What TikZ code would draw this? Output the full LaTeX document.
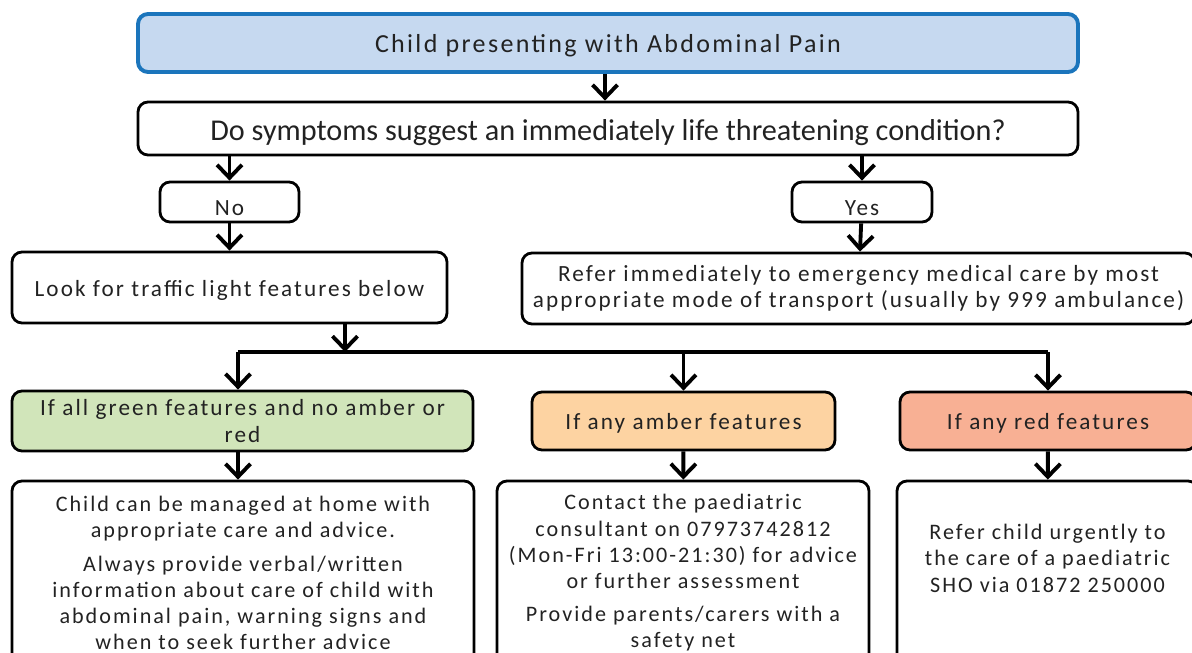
\documentclass[tikz,border=0pt]{standalone}
\usepackage{fontspec}
\setmainfont{Carlito}[LetterSpace=9]
\newfontfamily\askfont{Carlito}
\usetikzlibrary{arrows.meta}
\definecolor{startfill}{HTML}{C6D9F0}
\definecolor{startline}{HTML}{1B75BC}
\definecolor{greenfill}{HTML}{D1E5BA}
\definecolor{amberfill}{HTML}{FDD3A2}
\definecolor{redfill}{HTML}{F8B094}
\definecolor{inktext}{HTML}{222222}

\begin{document}
\begin{tikzpicture}[
    every node/.append style={draw, line width=1.6pt, rounded corners=0.2cm,
      text=inktext, font=\fontsize{13.2}{15}\selectfont, align=center},
    detail/.style={font=\fontsize{12.6}{14.9}\selectfont},
    flow/.style={line width=2.2pt, -{Straight Barb[length=2.6mm,width=5mm,line width=2.2pt]}},
    busline/.style={line width=2.2pt}]
    \useasboundingbox (0,0) rectangle (23.84,-13.06);
    % top of the chart
    \node[fill=startfill, draw=startline, line width=2.2pt, minimum width=18.8cm,
      minimum height=1.16cm, font=\fontsize{14.8}{17}\selectfont] (start) at (12.16,-0.86)
      {\raisebox{-5.5pt}[0pt][0pt]{Child presenting with Abdominal Pain}};
    \node[minimum width=18.8cm, minimum height=1.06cm,
      font=\fontsize{17.2}{20}\selectfont\askfont] (ask) at (12.16,-2.57)
      {\raisebox{-7pt}[0pt][0pt]{Do symptoms suggest an immediately life threatening condition?}};
    \node[minimum width=2.78cm, minimum height=0.8cm] (no) at (4.59,-4.04)
      {\raisebox{-7.5pt}[0pt][0pt]{No}};
    \node[minimum width=2.8cm, minimum height=0.8cm] (yes) at (17.24,-4.04)
      {\raisebox{-7.5pt}[0pt][0pt]{Yes}};
    \node[minimum width=8.7cm, minimum height=1.42cm] (look) at (4.59,-5.75)
      {\raisebox{-5pt}[0pt][0pt]{Look for traffic light features below}};
    \node[minimum width=13.46cm, minimum height=1.42cm] (refer) at (17.17,-5.77)
      {Refer immediately to emergency medical care by most\\
       appropriate mode of transport (usually by 999 ambulance)};
    % traffic lights
    \node[fill=greenfill, minimum width=9.22cm, minimum height=1.2cm] (green) at (4.85,-8.42)
      {If all green features and no amber or\\ red};
    \node[fill=amberfill, minimum width=6.06cm, minimum height=1.16cm] (amber) at (13.67,-8.42)
      {\raisebox{-5pt}[0pt][0pt]{If any amber features}};
    \node[fill=redfill, minimum width=5.92cm, minimum height=1.16cm] (red) at (20.96,-8.42)
      {\raisebox{-5pt}[0pt][0pt]{If any red features}};
    \node[detail, minimum width=9.24cm, minimum height=3.68cm] (home) at (4.86,-11.46)
      {Child can be managed at home with\\ appropriate care and advice.\\[4pt]
       Always provide verbal/written\\ information about care of child with\\
       abdominal pain, warning signs and\\ when to seek further advice};
    \node[detail, minimum width=7.44cm, minimum height=3.68cm] (contact) at (13.66,-11.46)
      {Contact the paediatric\\ consultant on 07973742812\\
       (Mon-Fri 13:00-21:30) for advice\\ or further assessment\\[4pt]
       Provide parents/carers with a\\ safety net};
    \node[detail, minimum width=6.02cm, minimum height=3.68cm] (sho) at (20.95,-11.46)
      {Refer child urgently to\\ the care of a paediatric\\ SHO via 01872 250000\\[2pt]\mbox{}};
    % connectors
    \coordinate (split) at (6.9,-7.04);
    \draw[flow] (start.south -| 12.1,0) -- (ask.north -| 12.1,0);
    \draw[flow] (ask.south -| no) -- (no);
    \draw[flow] (ask.south -| yes) -- (yes);
    \draw[flow] (no) -- (look);
    \draw[flow] (yes) -- (refer);
    \draw[flow] (look.south -| split) -- (split);
    \draw[busline] (4.76,-7.04) -- (20.96,-7.04);
    \draw[flow] (4.76,-7.04) -- (green.north -| 4.76,0);
    \draw[flow] (amber |- split) -- (amber);
    \draw[flow] (red |- split) -- (red);
    \draw[flow] (green.south -| 4.76,0) -- (home.north -| 4.76,0);
    \draw[flow] (amber) -- (contact);
    \draw[flow] (red) -- (sho);
\end{tikzpicture}
\end{document}
